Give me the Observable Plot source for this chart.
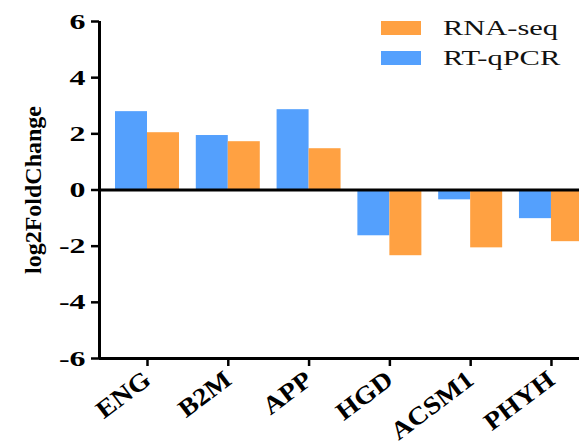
<!DOCTYPE html>
<html><head><meta charset="utf-8">
<script src="https://cdn.jsdelivr.net/npm/d3@7"></script>
<script src="https://cdn.jsdelivr.net/npm/@observablehq/plot@0.6"></script>
<style>
body{margin:0;overflow:hidden;background:#fff;}
#wrap{position:relative;width:579px;height:445px;overflow:hidden;}
.legend{position:absolute;left:381px;top:13px;font-family:"Liberation Serif",serif;font-size:21px;color:#111;}
.row{display:flex;align-items:center;height:30px;}
.sw{width:40px;height:14px;margin-right:22px;flex:none;}
.lbl{display:inline-block;white-space:nowrap;transform:scaleX(1.45);transform-origin:left center;}
</style></head><body><div id="wrap"></div>
<script>
const genes = ["ENG", "B2M", "APP", "HGD", "ACSM1", "PHYH"];
const rtqpcr = [2.79, 1.94, 2.86, -1.63, -0.35, -1.02];
const rnaseq = [2.04, 1.72, 1.47, -2.34, -2.06, -1.84];
const series = ["RNA-seq", "RT-qPCR"];
const colors = ["#ffa142", "#54a0fd"];
const yTicks = [-6, -4, -2, 0, 2, 4, 6];
const yLabel = "log2FoldChange";

const barWidth = 0.396; // width of one bar, in category units
const xDomain = [-0.594, 5.347];

const data = genes.flatMap((g, i) => [
  {gene: g, i, series: "RT-qPCR", value: rtqpcr[i]},
  {gene: g, i, series: "RNA-seq", value: rnaseq[i]}
]);

const font = "Liberation Serif";
const chart = Plot.plot({
  width: 579, height: 445,
  marginLeft: 99, marginRight: 0, marginTop: 21, marginBottom: 87,
  x: {type: "linear", domain: xDomain},
  y: {domain: [-6, 6]},
  color: {domain: series, range: colors},
  style: {fontFamily: font, color: "#000", background: "white", overflow: "hidden"},
  marks: [
    Plot.rectY(data, {
      x1: d => d.series === "RT-qPCR" ? d.i - barWidth : d.i,
      x2: d => d.series === "RT-qPCR" ? d.i : d.i + barWidth,
      y: "value", fill: "series", clip: true
    }),
    Plot.ruleY([0], {stroke: "#000", strokeWidth: 3}),
    Plot.ruleY([-6], {stroke: "#000", strokeWidth: 3}),
    Plot.ruleX([xDomain[0]], {stroke: "#000", strokeWidth: 3}),
    Plot.axisY({ticks: yTicks, tickFormat: d => String(d), tickSize: 8, tickPadding: 6,
      fontSize: 22, fontWeight: "bold", strokeWidth: 2.5, label: null}),
    Plot.axisX({ticks: d3.range(genes.length), tickFormat: i => genes[i], tickSize: 8, tickPadding: 10,
      tickRotate: -37, fontSize: 25, fontWeight: "bold", strokeWidth: 2.5, label: null}),
    Plot.text([yLabel], {text: d => d, frameAnchor: "left", rotate: -90, dx: -66,
      textAnchor: "middle", lineAnchor: "middle", fontSize: 24, fontWeight: "bold"})
  ]
});
const wrap = document.getElementById("wrap");
wrap.append(chart);
const stretch = (sel, k) => d3.select(chart).selectAll(sel).each(function() {
  const L = this.getComputedTextLength();
  this.setAttribute("textLength", L * k);
  this.setAttribute("lengthAdjust", "spacingAndGlyphs");
});
stretch("[aria-label='y-axis tick label'] text", 1.45);
stretch("[aria-label='x-axis tick label'] text", 1.12);

const legend = document.createElement("div");
legend.className = "legend";
series.forEach((s, k) => {
  const row = document.createElement("div");
  row.className = "row";
  const sw = document.createElement("span");
  sw.className = "sw";
  sw.style.background = colors[k];
  const lb = document.createElement("span");
  lb.className = "lbl";
  lb.textContent = s;
  row.append(sw, lb);
  legend.append(row);
});
wrap.append(legend);
</script></body></html>
